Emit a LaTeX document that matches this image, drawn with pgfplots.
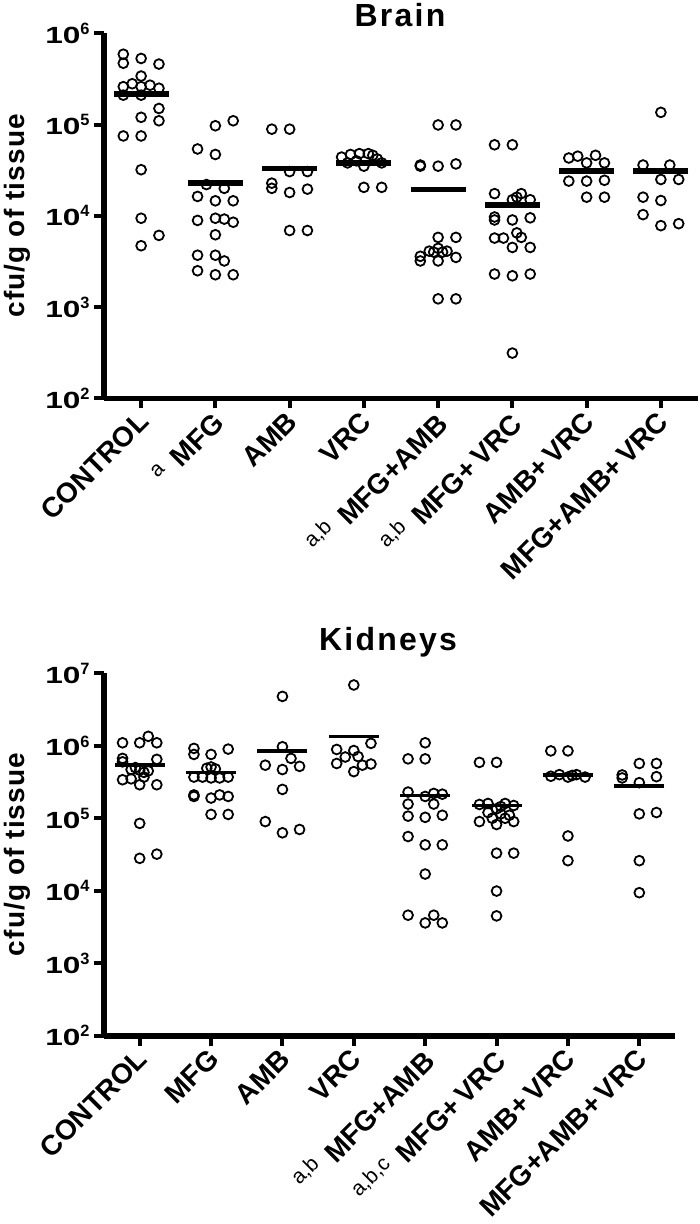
\documentclass[border=0pt]{standalone}
\usepackage{pgfplots}
\pgfplotsset{compat=1.18}
\usepackage{fontspec}
\setmainfont{Liberation Sans}
\newfontfamily\titlefont{Liberation Sans}[LetterSpace=7]
\newfontfamily\ylabfont{Liberation Sans}[LetterSpace=4]
\newcommand{\sups}[1]{\textsuperscript{\mdseries\fontsize{10.5}{10.5}\selectfont #1}\hspace{0.4em}}
\newcommand{\tp}[1]{\scalebox{1.35}[1]{10}\textsuperscript{#1}}

\begin{document}
\begin{tikzpicture}
% ---------------- Brain ----------------
\begin{axis}[at={(52pt,-16.65pt)}, anchor=north west,
  scale only axis,
  width=297pt, height=182.5pt,
  ymode=log,
  xmin=-0.5, xmax=7.5,
  ymin=1e2, ymax=1e6,
  axis x line*=bottom, axis y line*=left,
  axis line style={line width=2.8pt, -},
  tick style={line width=2pt, black},
  major tick length=5pt,
  tick align=outside,
  xtick={0,1,2,3,4,5,6,7},
  yminorticks=false,
  xminorticks=false,
  clip=false,
  xticklabel style={rotate=45, anchor=east, font=\bfseries\fontsize{14}{14}\selectfont, inner sep=2pt, yshift=-4pt},
  yticklabel style={font=\bfseries\fontsize{11.7}{12}\selectfont, inner sep=1.5pt},
  ylabel={cfu/g of tissue},
  ylabel style={font=\ylabfont\bfseries\fontsize{14}{14}\selectfont, anchor=center, at={(axis description cs:-0.1465,0.5)}},
  ytick={1e2,1e3,1e4,1e5,1e6},
  yticklabels={\tp{2},\tp{3},\tp{4},\tp{5},\tp{6}},
  xticklabels={CONTROL,{\sups{a}MFG},AMB,VRC,{\sups{a,b}MFG+AMB},{\sups{a,b}MFG+\,VRC},AMB+\,VRC,MFG+AMB+\,VRC},
]
\addplot[only marks, mark=o, mark size=2.45pt, mark options={line width=0.9pt, black}] coordinates {
 (-0.24,5.9e5) (-0.24,4.7e5) (0,5.3e5) (0.24,4.6e5) (0,3.4e5)
 (-0.24,2.6e5) (-0.12,2.8e5) (0,2.6e5) (0.12,2.7e5) (0.24,2.5e5)
 (-0.24,2.1e5) (0,2.1e5)
 (0,1.2e5) (0.24,1.5e5) (0.24,1.1e5) (-0.24,7.5e4) (0,7.5e4)
 (0,3.2e4) (0,9.4e3) (0.24,6.1e3) (0,4.7e3)
 (1,9.7e4) (1.24,1.1e5) (0.76,5.4e4) (1,4.7e4)
 (0.88,2.2e4) (1.12,2.0e4)
 (0.76,1.63e4) (1,1.46e4) (1.24,1.46e4)
 (0.76,8.9e3) (1,9.4e3) (1.12,9.2e3) (1.24,8.5e3)
 (1,6.2e3)
 (0.76,3.7e3) (1,3.7e3) (1.12,3.2e3)
 (0.76,2.5e3) (1,2.26e3) (1.24,2.26e3)
 (1.76,8.9e4) (2,8.9e4)
 (2,3.05e4) (2.24,3.05e4)
 (1.76,2.28e4) (1.76,2.0e4) (2,1.8e4) (2.24,1.96e4)
 (2,6.9e3) (2.24,6.9e3)
 (2.70,4.4e4) (2.82,4.7e4) (2.94,4.8e4) (3.06,4.8e4) (3.12,4.6e4) (2.78,3.8e4) (3,3.5e4) (3.24,3.8e4) (3.18,4.2e4) (2.9,4.0e4) (3,2.05e4) (3.24,2.05e4)
 (4,9.9e4) (4.24,9.9e4)
 (3.76,3.6e4) (3.76,3.5e4) (4,3.5e4) (4.24,3.7e4)
 (4,5.8e3) (4.24,5.8e3)
 (3.76,3.6e3) (3.76,3.2e3) (3.88,4.1e3) (4,4.4e3) (4.12,4.1e3) (4,3.2e3) (4.24,3.5e3) (3.94,4.0e3) (4.06,4.0e3)
 (4,1.23e3) (4.24,1.23e3)
 (4.76,6.0e4) (5,6.0e4)
 (4.76,1.75e4) (5,1.5e4) (5.12,1.75e4) (5.24,1.5e4) (5.06,1.6e4)
 (4.76,9.7e3) (4.76,9.0e3) (5,9.0e3) (5.24,9.5e3)
 (4.76,5.7e3) (4.88,5.7e3) (5.06,6.5e3) (5.12,5.8e3) (5,4.5e3) (5.24,4.5e3)
 (4.76,2.3e3) (5,2.2e3) (5.24,2.3e3)
 (5,313)
 (5.76,4.3e4) (5.88,4.5e4) (6.12,4.6e4) (6,3.8e4) (6.24,3.8e4)
 (5.76,2.4e4) (6,2.4e4) (6.24,2.45e4)
 (6,1.6e4) (6.24,1.6e4)
 (7,1.36e5)
 (6.76,3.6e4) (7.12,3.6e4)
 (7,2.5e4) (7.24,2.5e4)
 (6.76,1.6e4) (7,1.47e4)
 (6.76,1.03e4) (7,7.8e3) (7.24,8.2e3)
};
\addplot[only marks, mark=-, mark size=13.7pt, mark options={line width=2.8pt, black}] coordinates {
 (0,2.16e5) (1,2.28e4) (2,3.3e4) (3,3.8e4) (4,1.95e4) (5,1.32e4) (6,3.1e4) (7,3.1e4)
};
\end{axis}
% ---------------- Kidneys ----------------
\begin{axis}[at={(52pt,-336.65pt)}, anchor=north west,
  scale only axis,
  width=285.5pt, height=181.2pt,
  ymode=log,
  xmin=-0.5, xmax=7.5,
  ymin=1e2, ymax=1e7,
  axis x line*=bottom, axis y line*=left,
  axis line style={line width=2.8pt, -},
  tick style={line width=2pt, black},
  major tick length=5pt,
  tick align=outside,
  xtick={0,1,2,3,4,5,6,7},
  yminorticks=false,
  xminorticks=false,
  clip=false,
  xticklabel style={rotate=45, anchor=east, font=\bfseries\fontsize{14}{14}\selectfont, inner sep=2pt, yshift=-4pt},
  yticklabel style={font=\bfseries\fontsize{11.7}{12}\selectfont, inner sep=1.5pt},
  ylabel={cfu/g of tissue},
  ylabel style={font=\ylabfont\bfseries\fontsize{14}{14}\selectfont, anchor=center, at={(axis description cs:-0.152,0.5)}},
  ytick={1e2,1e3,1e4,1e5,1e6,1e7},
  yticklabels={\tp{2},\tp{3},\tp{4},\tp{5},\tp{6},\tp{7}},
  xticklabels={CONTROL,MFG,AMB,VRC,{\sups{a,b}MFG+AMB},{\sups{a,b,c}MFG+\,VRC},AMB+\,VRC,MFG+AMB+\,VRC},
]
\addplot[only marks, mark=o, mark size=2.45pt, mark options={line width=0.9pt, black}] coordinates {
 (-0.24,1.1e6) (0,1.1e6) (0.12,1.35e6) (0.24,1.1e6)
 (-0.24,6.7e5) (-0.24,6.0e5) (0.24,6.5e5)
 (-0.12,4.7e5) (0,4.6e5) (0.06,4.3e5) (0.12,4.5e5) (-0.06,5.0e5)
 (-0.24,3.4e5) (-0.12,3.5e5) (0.06,3.7e5) (0,2.9e5) (0.24,2.9e5)
 (0,8.5e4) (0,2.8e4) (0.24,3.2e4)
 (0.76,9.2e5) (0.76,7.6e5) (1,7.6e5) (1.24,9.0e5)
 (0.94,4.9e5) (1,5.1e5) (1.06,4.8e5)
 (0.76,3.7e5) (0.88,3.7e5) (1,3.6e5) (1.12,3.6e5) (1.24,3.7e5)
 (0.76,2.1e5) (0.76,2.0e5) (1,1.9e5) (1.12,2.1e5) (1.24,2.0e5)
 (1,1.13e5) (1.24,1.13e5)
 (2,4.8e6) (2,9.7e5) (1.76,5.4e5) (2.12,6.7e5) (2.24,5.2e5) (2,4.7e5) (2,2.5e5) (1.76,9.0e4) (2,6.3e4) (2.24,7.0e4)
 (3,6.9e6) (3.24,1.08e6) (2.76,8.9e5) (3,8.6e5) (3.06,7.1e5) (2.76,5.7e5) (3.12,5.4e5) (3.24,5.6e5) (3,4.4e5) (2.88,7.0e5)
 (4,1.1e6) (3.76,6.6e5) (4,6.6e5)
 (3.76,2.3e5) (4,2.0e5) (4.12,2.2e5) (4.24,2.15e5)
 (3.76,1.57e5) (4.12,1.57e5)
 (3.76,1.07e5) (4,1.03e5) (4.24,1.1e5)
 (3.76,5.6e4) (4,4.3e4) (4.24,4.3e4)
 (4,1.7e4)
 (3.76,4.6e3) (4.12,4.6e3) (4,3.6e3) (4.24,3.6e3)
 (4.76,5.9e5) (5,5.9e5)
 (4.76,1.55e5) (4.88,1.6e5) (5,1.35e5) (5.12,1.6e5) (5.24,1.5e5) (5.06,1.45e5)
 (4.88,1.2e5) (5.06,1.15e5) (5.18,1.1e5) (4.94,1.0e5) (5.12,1.0e5)
 (4.76,9.0e4) (5,8.2e4) (5.24,9.0e4)
 (5,3.3e4) (5.24,3.3e4)
 (5,9.9e3) (5,4.5e3)
 (5.76,8.5e5) (6,8.5e5)
 (5.76,3.8e5) (5.88,4.0e5) (6,3.7e5) (6.06,3.9e5) (6.12,4.0e5) (6.24,3.7e5)
 (6,5.7e4) (6,2.6e4)
 (7,5.7e5) (7.24,5.7e5) (7.24,3.75e5) (6.76,3.96e5) (6.76,3.6e5) (7,3.1e5) (7,1.15e5) (7.24,1.2e5) (7,2.6e4) (7,9.4e3)
};
\addplot[only marks, mark=-, mark size=12.5pt, mark options={line width=1.7pt, black}] coordinates {
 (0,5.4e5) (1,4.3e5) (2,8.5e5) (3,1.34e6) (4,2.05e5) (5,1.5e5) (6,3.96e5) (7,2.8e5)
};
\end{axis}
\node[anchor=base, font=\titlefont\bfseries\fontsize{16}{16}\selectfont] at (200pt,-13.35pt) {Brain};
\node[anchor=base, font=\titlefont\bfseries\fontsize{16}{16}\selectfont] at (194pt,-325pt) {Kidneys};
\pgfresetboundingbox
\path[use as bounding box] (0,0) rectangle (350pt,-612pt);
\end{tikzpicture}
\end{document}
